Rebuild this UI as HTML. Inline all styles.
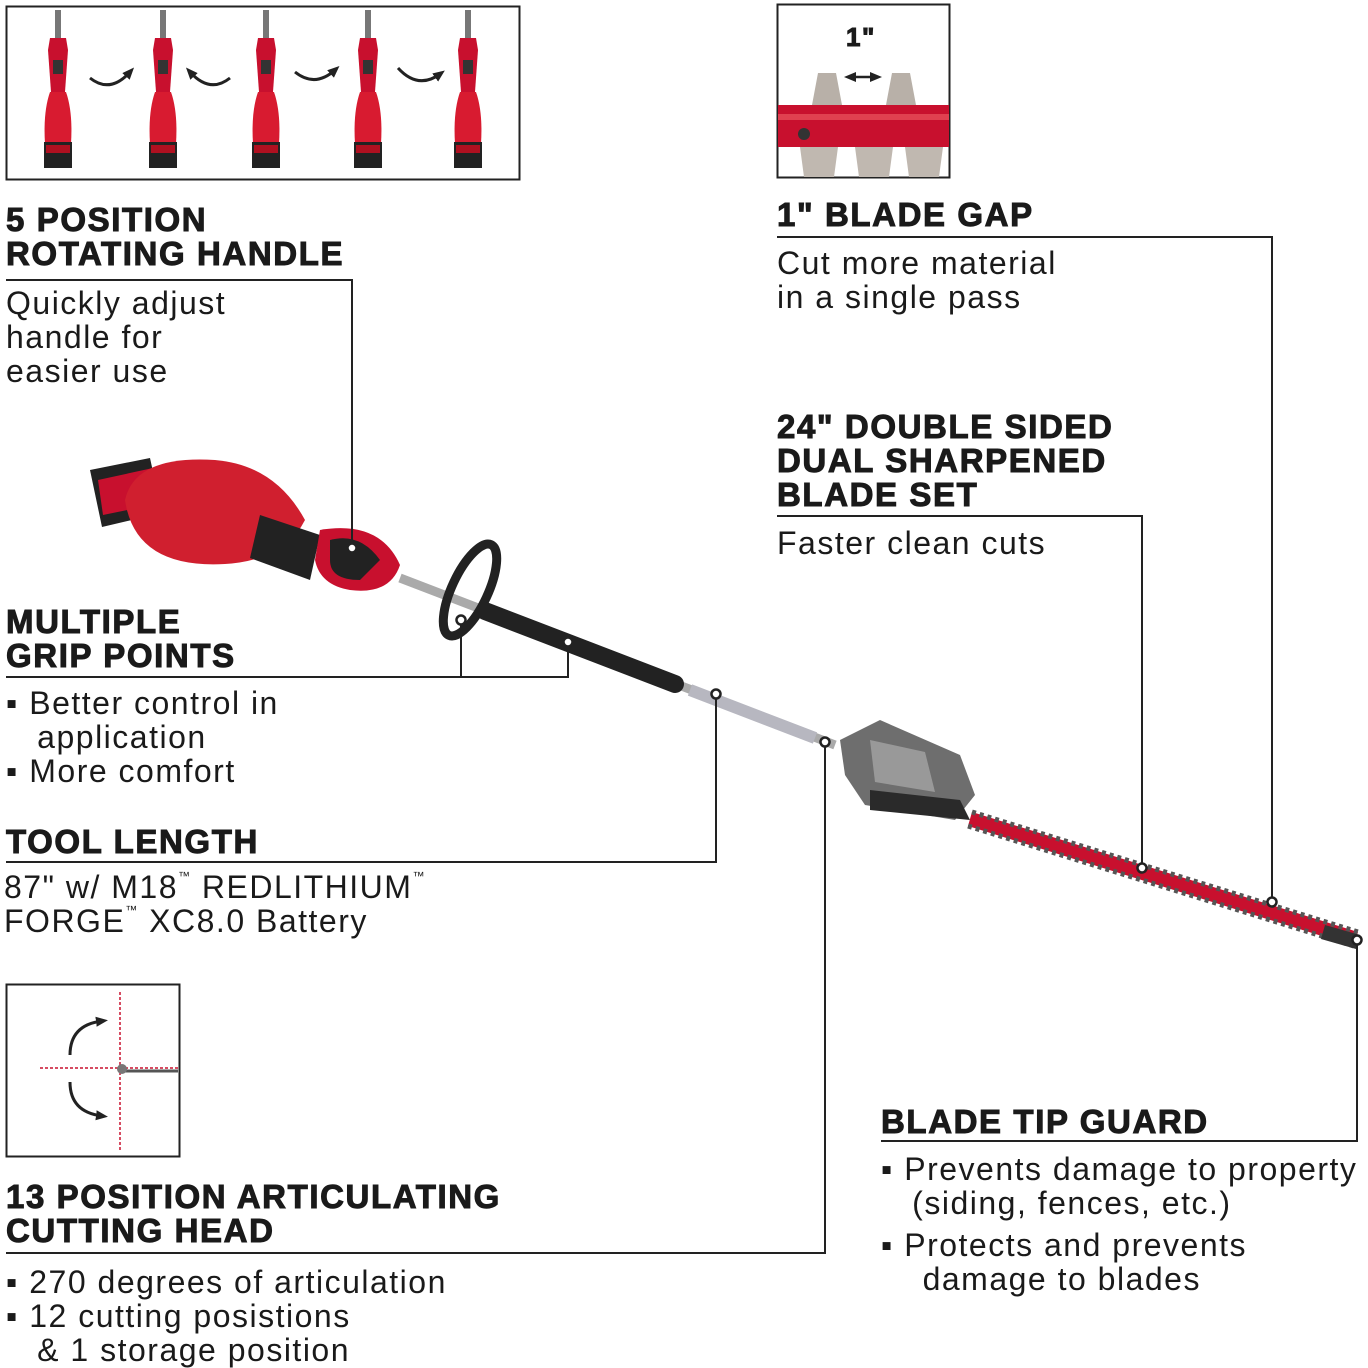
<!DOCTYPE html>
<html><head><meta charset="utf-8"><style>
body{margin:0;background:#fff;}
#c{position:relative;width:1368px;height:1368px;overflow:hidden;background:#fff;font-family:"Liberation Sans",sans-serif;color:#1a1a1a;}
.h{position:absolute;font-weight:bold;font-size:33px;letter-spacing:1.6px;line-height:34px;white-space:nowrap;-webkit-text-stroke:1px #1a1a1a;}
.t{position:absolute;font-size:32px;letter-spacing:1.5px;line-height:34px;white-space:nowrap;}
sup{font-size:12px;vertical-align:top;line-height:12px;}
svg{position:absolute;left:0;top:0;}
</style></head><body><div id="c">
<svg width="1368" height="1368" viewBox="0 0 1368 1368">
<defs>
<marker id="ar" markerUnits="userSpaceOnUse" markerWidth="12" markerHeight="12" refX="6" refY="6" orient="auto-start-reverse"><path d="M0,1 L12,6 L0,11 z" fill="#222"/></marker>
<g id="hd">
<rect x="-3" y="10" width="6" height="30" fill="#777"/>
<path d="M-8,38 h16 l2,12 l-3,42 h-14 l-3,-42 z" fill="#c8102e"/>
<rect x="-5" y="60" width="10" height="14" fill="#333"/>
<path d="M-8,92 q-7,20 -5,52 h26 q2,-32 -5,-52 z" fill="#d81b30"/>
<rect x="-14" y="142" width="28" height="26" fill="#222"/>
<rect x="-12" y="145" width="24" height="8" fill="#b01020"/>
</g>
</defs>
<rect x="6.5" y="6.5" width="513" height="173" fill="#fff" stroke="#222" stroke-width="2"/>
<rect x="777.5" y="4.5" width="172" height="173" fill="#fff" stroke="#222" stroke-width="2"/>
<rect x="6.5" y="984.5" width="173" height="172" fill="#fff" stroke="#222" stroke-width="2"/>
<use href="#hd" x="58" y="0"/><use href="#hd" x="163" y="0"/><use href="#hd" x="266" y="0"/><use href="#hd" x="368" y="0"/><use href="#hd" x="468" y="0"/>
<g fill="none" stroke="#222" stroke-width="3" marker-end="url(#ar)">
<path d="M90,78 q20,16 40,-6"/><path d="M230,78 q-20,16 -40,-6"/><path d="M295,72 q20,16 40,-2"/><path d="M398,68 q20,22 42,6"/>
</g>
<rect x="778" y="105" width="171" height="42" fill="#c8102e"/>
<rect x="778" y="114" width="171" height="6" fill="#e04050"/>
<path d="M812,105 l6,-32 h18 l6,32 z M886,105 l6,-32 h18 l6,32 z" fill="#b8b0a8"/>
<path d="M800,147 l4,30 h30 l4,-30 z M855,147 l4,30 h30 l4,-30 z M905,147 l4,30 h30 l4,-30 z" fill="#c0b8b0"/>
<circle cx="804" cy="134" r="6" fill="#333"/>
<path d="M850,77 h26" stroke="#222" stroke-width="2.5" marker-start="url(#ar)" marker-end="url(#ar)"/>
<line x1="120" y1="992" x2="120" y2="1152" stroke="#c8102e" stroke-width="1.5" stroke-dasharray="3,2"/>
<line x1="40" y1="1068" x2="178" y2="1068" stroke="#c8102e" stroke-width="1.5" stroke-dasharray="3,2"/>
<line x1="125" y1="1071" x2="178" y2="1071" stroke="#555" stroke-width="3"/>
<circle cx="122" cy="1069" r="5" fill="#777"/>
<g fill="none" stroke="#222" stroke-width="3" marker-end="url(#ar)">
<path d="M70,1055 q0,-30 32,-34"/><path d="M70,1082 q0,30 32,34"/>
</g>
<line x1="400" y1="578" x2="835" y2="745" stroke="#aaa" stroke-width="9"/>
<line x1="485" y1="611" x2="675" y2="684" stroke="#222" stroke-width="18" stroke-linecap="round"/>
<line x1="690" y1="690" x2="815" y2="738" stroke="#b7b7c0" stroke-width="12"/>
<ellipse cx="470" cy="590" rx="18" ry="50" transform="rotate(25 470 590)" fill="none" stroke="#222" stroke-width="9"/>
<path d="M90,470 l60,-12 l12,55 l-60,14 z" fill="#222"/>
<path d="M98,480 l55,-12 l8,35 l-58,12 z" fill="#c8102e"/>
<path d="M125,500 q10,-45 90,-40 q60,5 90,60 q-20,40 -80,44 q-90,5 -100,-64 z" fill="#d01f2f"/>
<path d="M260,515 l60,20 l-10,45 l-60,-22 z" fill="#222"/>
<path d="M320,530 q60,-10 80,35 q-10,30 -50,25 q-30,-5 -35,-30 z" fill="#c8102e"/>
<path d="M330,540 q30,-8 50,20 l-20,20 q-30,0 -30,-20 z" fill="#222"/>
<path d="M840,740 l40,-20 l80,35 l15,40 l-20,25 l-90,-15 l-20,-30 z" fill="#6e6e6e"/>
<path d="M870,790 l90,10 l10,20 l-100,-10 z" fill="#2a2a2a"/>
<path d="M870,740 l55,12 l10,40 l-60,-10 z" fill="#999"/>
<path d="M972,812 L1358,932 L1354,946 L968,826 z" fill="#c8102e"/>
<path d="M972,812 L1358,932" stroke="#555" stroke-width="5" stroke-dasharray="4,4"/>
<path d="M968,826 L1354,946" stroke="#555" stroke-width="5" stroke-dasharray="4,4"/>
<path d="M1325,925 l35,10 l-4,14 l-35,-10 z" fill="#333"/>
<g fill="none" stroke="#222" stroke-width="2">
<polyline points="6,280 352,280 352,548"/>
<polyline points="777,237 1272,237 1272,902"/>
<polyline points="777,516 1142,516 1142,868"/>
<polyline points="6,677 568,677 568,642"/>
<polyline points="461,677 461,620"/>
<polyline points="6,862 716,862 716,694"/>
<polyline points="6,1253 825,1253 825,742"/>
<polyline points="881,1141 1357,1141 1357,940"/>
</g>
<g fill="#fff" stroke="#222" stroke-width="2.5">
<circle cx="352" cy="548" r="4.5"/><circle cx="1272" cy="902" r="4.5"/><circle cx="1142" cy="868" r="4.5"/>
<circle cx="568" cy="642" r="4.5"/><circle cx="461" cy="620" r="4.5"/><circle cx="716" cy="694" r="4.5"/>
<circle cx="825" cy="742" r="4.5"/><circle cx="1357" cy="940" r="4.5"/>
</g>
</svg>
<div class="h" style="left:846px;top:20px;font-size:26px;">1"</div>
<div class="h" style="left:6px;top:203px;">5 POSITION<br>ROTATING HANDLE</div>
<div class="t" style="left:6px;top:286px;">Quickly adjust<br>handle for<br>easier use</div>
<div class="h" style="left:777px;top:198px;">1" BLADE GAP</div>
<div class="t" style="left:777px;top:246px;">Cut more material<br>in a single pass</div>
<div class="h" style="left:777px;top:410px;">24" DOUBLE SIDED<br>DUAL SHARPENED<br>BLADE SET</div>
<div class="t" style="left:777px;top:526px;">Faster clean cuts</div>
<div class="h" style="left:6px;top:605px;">MULTIPLE<br>GRIP POINTS</div>
<div class="t" style="left:6px;top:686px;">▪ Better control in<br>&nbsp;&nbsp;&nbsp;application<br>▪ More comfort</div>
<div class="h" style="left:6px;top:825px;">TOOL LENGTH</div>
<div class="t" style="left:4px;top:870px;">87" w/ M18<sup>™</sup> REDLITHIUM<sup>™</sup><br>FORGE<sup>™</sup> XC8.0 Battery</div>
<div class="h" style="left:6px;top:1180px;">13 POSITION ARTICULATING<br>CUTTING HEAD</div>
<div class="t" style="left:6px;top:1265px;">▪ 270 degrees of articulation<br>▪ 12 cutting posistions<br>&nbsp;&nbsp;&nbsp;&amp; 1 storage position</div>
<div class="h" style="left:881px;top:1105px;">BLADE TIP GUARD</div>
<div class="t" style="left:881px;top:1152px;">▪ Prevents damage to property<br>&nbsp;&nbsp;&nbsp;(siding, fences, etc.)</div>
<div class="t" style="left:881px;top:1228px;">▪ Protects and prevents<br>&nbsp;&nbsp;&nbsp;&nbsp;damage to blades</div>
</div></body></html>
